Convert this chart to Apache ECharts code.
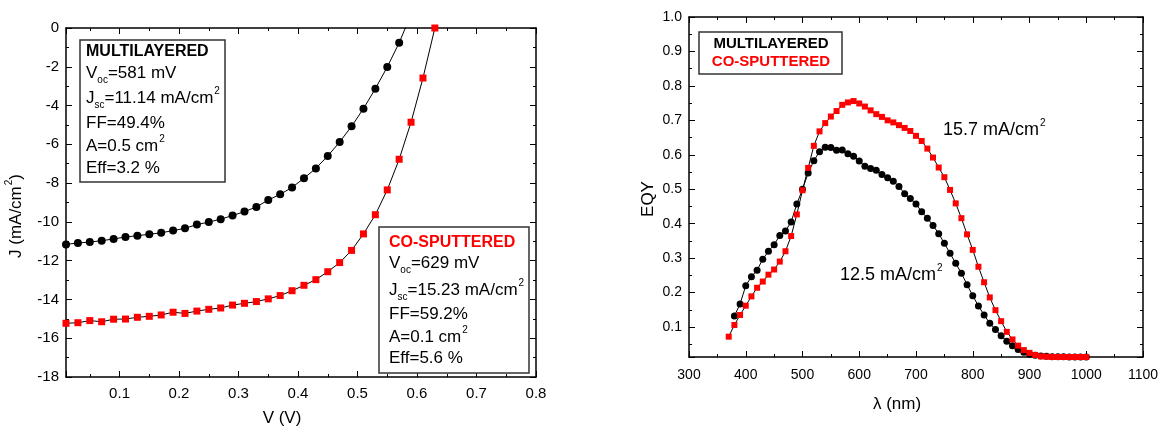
<!DOCTYPE html>
<html>
<head>
<meta charset="utf-8">
<title>J-V and EQY</title>
<script src="https://cdn.jsdelivr.net/npm/echarts@6/dist/echarts.min.js"></script>
<style>
  html, body { margin: 0; padding: 0; background: #fff; }
  #chart { width: 1160px; height: 428px; }
</style>
</head>
<body>
<div id="chart"></div>
<script>
// ==================== 数据 ====================

// J-V 曲线 (左图)
const ivVoltML = [0.01, 0.03, 0.05, 0.07, 0.09, 0.11, 0.13, 0.15, 0.17, 0.19, 0.21, 0.23, 0.25, 0.27, 0.29,
  0.31, 0.33, 0.35, 0.37, 0.39, 0.41, 0.43, 0.45, 0.47, 0.49, 0.51, 0.53, 0.55, 0.57, 0.59];
const ivCurrML = [-11.16, -11.09, -11.04, -10.97, -10.88, -10.78, -10.71, -10.64, -10.56, -10.45, -10.33, -10.14, -10.01, -9.86, -9.67,
  -9.47, -9.23, -8.87, -8.58, -8.22, -7.75, -7.24, -6.60, -5.88, -5.07, -4.16, -3.13, -2.01, -0.76, 0.70];

const ivVoltCS = [0.01, 0.03, 0.05, 0.07, 0.09, 0.11, 0.13, 0.15, 0.17, 0.19, 0.21, 0.23, 0.25, 0.27, 0.29,
  0.31, 0.33, 0.35, 0.37, 0.39, 0.41, 0.43, 0.45, 0.47, 0.49, 0.51, 0.53, 0.55, 0.57, 0.59, 0.61, 0.63];
const ivCurrCS = [-15.23, -15.20, -15.09, -15.15, -15.02, -15.01, -14.92, -14.87, -14.80, -14.66, -14.72, -14.60, -14.51, -14.44, -14.29,
  -14.20, -14.11, -13.97, -13.80, -13.55, -13.27, -12.98, -12.57, -12.10, -11.47, -10.62, -9.63, -8.35, -6.77, -4.86, -2.58, 0.0];

// EQY 曲线 (右图)
const eqyWaveML = [380, 390, 400, 410, 420, 430, 440, 450, 460, 470, 480, 490, 500, 510, 520, 530, 540, 550, 560, 570,
  580, 590, 600, 610, 620, 630, 640, 650, 660, 670, 680, 690, 700, 710, 720, 730, 740, 750, 760, 770,
  780, 790, 800, 810, 820, 830, 840, 850, 860, 870, 880, 890, 900, 910, 920, 930, 940, 950, 960, 970, 980, 990, 1000];
const eqyValML = [0.132, 0.167, 0.220, 0.246, 0.265, 0.297, 0.320, 0.339, 0.366, 0.379, 0.405, 0.457, 0.500, 0.547, 0.583, 0.609, 0.622, 0.621, 0.613, 0.614,
  0.603, 0.596, 0.582, 0.567, 0.560, 0.555, 0.543, 0.533, 0.523, 0.508, 0.487, 0.473, 0.457, 0.435, 0.416, 0.395, 0.371, 0.343, 0.314, 0.285,
  0.256, 0.223, 0.191, 0.161, 0.135, 0.111, 0.093, 0.075, 0.059, 0.046, 0.035, 0.027, 0.021, 0.018, 0.016, 0.015, 0.014, 0.014, 0.014, 0.013, 0.013, 0.013, 0.013];

const eqyWaveCS = [370, 380, 390, 400, 410, 420, 430, 440, 450, 460, 470, 480, 490, 500, 510, 520, 530, 540, 550, 560, 570,
  580, 590, 600, 610, 620, 630, 640, 650, 660, 670, 680, 690, 700, 710, 720, 730, 740, 750, 760, 770,
  780, 790, 800, 810, 820, 830, 840, 850, 860, 870, 880, 890, 900, 910, 920, 930, 940, 950, 960, 970, 980, 990, 1000];
const eqyValCS = [0.072, 0.106, 0.135, 0.162, 0.189, 0.214, 0.232, 0.252, 0.267, 0.290, 0.320, 0.364, 0.427, 0.497, 0.562, 0.626, 0.668, 0.692, 0.711, 0.727, 0.745,
  0.752, 0.756, 0.749, 0.740, 0.729, 0.718, 0.710, 0.700, 0.694, 0.686, 0.678, 0.669, 0.655, 0.640, 0.618, 0.592, 0.563, 0.535, 0.498, 0.459,
  0.416, 0.369, 0.324, 0.275, 0.230, 0.186, 0.149, 0.117, 0.086, 0.064, 0.046, 0.033, 0.025, 0.019, 0.015, 0.014, 0.013, 0.013, 0.013, 0.013, 0.013, 0.013, 0.013];

// ==================== 样式 ====================

const FONT = '"Liberation Sans", Arial, sans-serif';
const RED = '#ff0000';

function pairs(xs, ys) {
  return xs.map((x, i) => [x, ys[i]]);
}

// 坐标轴（带内向刻度和次刻度）
function makeAxis(gridIndex, position, min, max, opts) {
  const showLabel = position === 'bottom' || position === 'left';
  return Object.assign({
    type: 'value',
    gridIndex,
    position,
    min,
    max,
    axisLine: { show: true, onZero: false, lineStyle: { color: '#000', width: 1.5 } },
    axisTick: { show: true, inside: true, length: 6, lineStyle: { color: '#000', width: 1 } },
    minorTick: { show: true, splitNumber: 2, length: 3, lineStyle: { color: '#000', width: 1 } },
    splitLine: { show: false },
    axisLabel: {
      show: showLabel,
      color: '#000',
      fontFamily: FONT,
      fontSize: 15,
      margin: 7
    }
  }, opts || {});
}

// 富文本：下标 / 上标
function richStyles() {
  return {
    sub: { fontSize: 10, fontFamily: FONT, fill: '#000', lineHeight: 10, padding: [14, 0, 0, 0], verticalAlign: 'middle' },
    sup: { fontSize: 10, fontFamily: FONT, fill: '#000', lineHeight: 10, padding: [0, 0, 14, 1], verticalAlign: 'middle' }
  };
}

function textLine(x, y, text, opts) {
  opts = opts || {};
  return {
    type: 'text',
    x,
    y,
    rotation: opts.rotation || 0,
    z: 100,
    style: {
      text,
      fill: opts.fill || '#000',
      fontSize: opts.size || 17,
      fontWeight: opts.bold ? 'bold' : 'normal',
      fontFamily: FONT,
      align: opts.align || 'left',
      verticalAlign: 'middle',
      lineHeight: 20,
      rich: richStyles()
    }
  };
}

function box(x, y, w, h) {
  return {
    type: 'rect',
    z: 90,
    shape: { x, y, width: w, height: h },
    style: { fill: '#fff', stroke: '#333', lineWidth: 1.5 }
  };
}

// ==================== 图形元素 ====================

const graphics = [
  // 左图注释 - MULTILAYERED
  box(80, 40, 145, 142),
  textLine(86, 52, 'MULTILAYERED', { bold: true, size: 16 }),
  textLine(86, 73, 'V{sub|oc}=581 mV'),
  textLine(86, 98, 'J{sub|sc}=11.14 mA/cm{sup|2}'),
  textLine(86, 123, 'FF=49.4%'),
  textLine(86, 146, 'A=0.5 cm{sup|2}'),
  textLine(86, 168, 'Eff=3.2 %'),

  // 左图注释 - CO-SPUTTERED
  box(379, 227, 150, 146),
  textLine(389, 243, 'CO-SPUTTERED', { bold: true, size: 16, fill: RED }),
  textLine(389, 263, 'V{sub|oc}=629 mV'),
  textLine(389, 290, 'J{sub|sc}=15.23 mA/cm{sup|2}'),
  textLine(389, 314, 'FF=59.2%'),
  textLine(389, 337, 'A=0.1 cm{sup|2}'),
  textLine(389, 358, 'Eff=5.6 %'),

  // 轴标题
  textLine(16, 216, 'J (mA/cm{sup|2})', { rotation: Math.PI / 2, align: 'center' }),
  textLine(282, 418, 'V (V)', { align: 'center' }),
  textLine(648, 199, 'EQY', { rotation: Math.PI / 2, align: 'center' }),
  textLine(897, 404, 'λ (nm)', { align: 'center' }),

  // 右图图例
  box(699, 32, 143, 42),
  textLine(771, 44, 'MULTILAYERED', { bold: true, size: 15, align: 'center' }),
  textLine(771, 62, 'CO-SPUTTERED', { bold: true, size: 15, align: 'center', fill: RED }),

  // 右图电流密度标注
  textLine(943, 130, '15.7 mA/cm{sup|2}', { size: 18 }),
  textLine(840, 275, '12.5 mA/cm{sup|2}', { size: 18 })
];

// ==================== 图表配置 ====================

const option = {
  backgroundColor: '#fff',
  animation: false,
  grid: [
    { left: 66, top: 28, width: 470, height: 349, containLabel: false, outerBoundsMode: 'none' },
    { left: 689, top: 17, width: 454, height: 340, containLabel: false, outerBoundsMode: 'none' }
  ],
  xAxis: [
    makeAxis(0, 'bottom', 0.01, 0.8, {
      splitNumber: 8,
      axisLabel: { color: '#000', fontFamily: FONT, fontSize: 15, margin: 9, showMinLabel: false, formatter: v => v.toFixed(1) }
    }),
    makeAxis(0, 'top', 0.01, 0.8, { splitNumber: 8 }),
    makeAxis(1, 'bottom', 300, 1100, {
      interval: 100,
      axisLabel: { color: '#000', fontFamily: FONT, fontSize: 14, margin: 11, formatter: v => String(v) }
    }),
    makeAxis(1, 'top', 300, 1100, { interval: 100 })
  ],
  yAxis: [
    makeAxis(0, 'left', -18, 0, {
      interval: 2,
      axisLabel: { color: '#000', fontFamily: FONT, fontSize: 15, margin: 7, formatter: v => String(v) }
    }),
    makeAxis(0, 'right', -18, 0, { interval: 2 }),
    makeAxis(1, 'left', 0.013, 1.0, {
      splitNumber: 10,
      axisLabel: { color: '#000', fontFamily: FONT, fontSize: 14, margin: 7, showMinLabel: false, formatter: v => v.toFixed(1) }
    }),
    makeAxis(1, 'right', 0.013, 1.0, { splitNumber: 10 })
  ],
  series: [
    {
      name: 'MULTILAYERED J-V',
      type: 'line',
      xAxisIndex: 0,
      yAxisIndex: 0,
      data: pairs(ivVoltML, ivCurrML),
      symbol: 'circle',
      symbolSize: 8,
      itemStyle: { color: '#000' },
      lineStyle: { color: '#000', width: 1 },
      clip: true
    },
    {
      name: 'CO-SPUTTERED J-V',
      type: 'line',
      xAxisIndex: 0,
      yAxisIndex: 0,
      data: pairs(ivVoltCS, ivCurrCS),
      symbol: 'rect',
      symbolSize: 7,
      itemStyle: { color: RED },
      lineStyle: { color: '#000', width: 1 },
      clip: true
    },
    {
      name: 'MULTILAYERED EQY',
      type: 'line',
      xAxisIndex: 2,
      yAxisIndex: 2,
      data: pairs(eqyWaveML, eqyValML),
      symbol: 'circle',
      symbolSize: 7,
      itemStyle: { color: '#000' },
      lineStyle: { color: '#000', width: 1 },
      clip: false
    },
    {
      name: 'CO-SPUTTERED EQY',
      type: 'line',
      xAxisIndex: 2,
      yAxisIndex: 2,
      data: pairs(eqyWaveCS, eqyValCS),
      symbol: 'rect',
      symbolSize: 6,
      itemStyle: { color: RED },
      lineStyle: { color: '#000', width: 1 },
      clip: false
    }
  ],
  graphic: graphics
};

const chart = echarts.init(document.getElementById('chart'));
chart.setOption(option);
</script>
</body>
</html>
